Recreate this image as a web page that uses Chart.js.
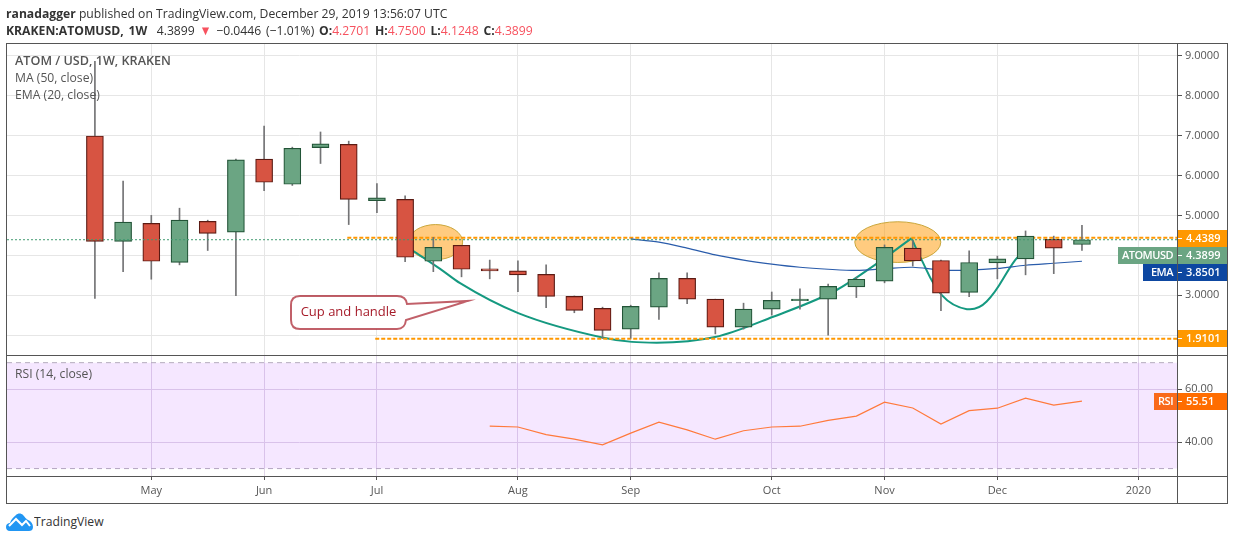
<!DOCTYPE html>
<html>
<head>
<meta charset="utf-8">
<title>ATOM / USD</title>
<script src="https://cdn.jsdelivr.net/npm/chart.js"></script>
<style>
  html, body { margin: 0; padding: 0; background: #fff; }
  body { width: 1234px; height: 540px; position: relative; overflow: hidden; font-family: "Open Sans", sans-serif; color: #333; }
  canvas { position: absolute; left: 0; }
  .txt { position: absolute; white-space: nowrap; line-height: 16px; transform-origin: left top; transform: scaleX(0.936); }
  .head { font-size: 13px; left: 6px; color: #333; }
  .head b { font-weight: 700; }
  .head i { font-style: normal; color: #f7525f; }
  .pane { font-size: 13px; left: 15px; color: #555; }
  .ln { position: absolute; background: #555; }
</style>
</head>
<body>
<canvas id="priceChart" width="1234" height="355" style="top:0"></canvas>
<canvas id="rsiChart" width="1234" height="148" style="top:355px"></canvas>

<div class="txt head" style="top:5px"><b>ranadagger</b> published on TradingView.com, December 29, 2019 13:56:07 UTC</div>
<div class="txt head" style="top:22px;word-spacing:1.7px"><b>KRAKEN:ATOMUSD, 1W</b>&nbsp; 4.3899 <i>▼</i> −0.0446 (−1.01%) <b>O:</b><i>4.2701</i> <b>H:</b><i>4.7500</i> <b>L:</b><i>4.1248</i> <b>C:</b><i>4.3899</i></div>
<div class="txt pane" style="top:52px;font-weight:600;transform:scaleX(0.97)">ATOM / USD, 1W, KRAKEN</div>
<div class="txt pane" style="top:69px">MA (50, close)</div>
<div class="txt pane" style="top:86px">EMA (20, close)</div>
<div class="txt pane" style="top:365px">RSI (14, close)</div>

<!-- chart frame -->
<div class="ln" style="left:6px;top:43px;width:1222px;height:1px"></div>
<div class="ln" style="left:6px;top:355px;width:1222px;height:1px"></div>
<div class="ln" style="left:6px;top:476px;width:1222px;height:1px"></div>
<div class="ln" style="left:6px;top:503px;width:1222px;height:1px"></div>
<div class="ln" style="left:6px;top:43px;width:1px;height:461px"></div>
<div class="ln" style="left:1177px;top:43px;width:1px;height:461px"></div>
<div class="ln" style="left:1227px;top:43px;width:1px;height:461px"></div>

<!-- logo -->
<svg style="position:absolute;left:6px;top:513px" width="27" height="18" viewBox="0 0 27 18">
  <path d="M0 14 C0 11 2 10 4 10 C5 6 8 4 10 2 C12 0 15 0 17 2 C19 4 20 6 22 7 C25 8 27 11 27 14 C27 17 25 18 23 18 L4 18 C1 18 0 16 0 14 Z" fill="#2196f3"/>
  <path d="M3 13 L10 6 L16 12 L20 8 L24 13" fill="none" stroke="#fff" stroke-width="2"/>
</svg>
<div class="txt" style="left:34px;top:513px;font-size:13px;color:#333">TradingView</div>

<script>
// weekly candles, Apr 2019 to Dec 2019
const opens =  [6.99,4.35,4.80,3.82,4.85,4.58,6.41,5.78,6.70,6.78,5.37,5.40,3.85,4.25,3.66,3.61,3.52,2.97,2.67,2.15,2.70,3.42,2.90,2.20,2.65,2.86,2.90,3.21,3.35,4.18,3.87,3.07,3.81,3.91,4.40,4.2701];
const highs =  [8.86,5.86,5.00,5.18,4.88,6.41,7.24,6.71,7.09,6.86,5.80,5.49,4.45,4.25,3.88,3.86,3.76,2.98,2.70,2.75,3.56,3.56,2.90,2.80,3.08,3.16,3.28,3.45,4.26,4.37,3.88,4.11,3.98,4.61,4.48,4.75];
const lows =   [2.92,3.59,3.40,3.76,4.12,2.99,5.62,5.75,6.30,4.77,5.07,3.84,3.59,3.46,3.41,3.09,2.69,2.56,1.92,1.92,2.39,2.79,2.03,2.15,2.50,2.65,2.00,2.94,3.31,3.73,2.61,2.96,3.41,3.51,3.54,4.1248];
const closes = [4.35,4.83,3.85,4.88,4.55,6.39,5.83,6.68,6.79,5.40,5.44,3.95,4.20,3.65,3.61,3.51,2.97,2.62,2.12,2.72,3.42,2.90,2.20,2.65,2.87,2.90,3.22,3.40,4.20,3.86,3.05,3.82,3.91,4.48,4.18,4.3899];

// EMA (20) starts at week 19, RSI (14) at week 14
const emaStart = 19;
const emaValues = [4.41,4.33,4.18,4.01,3.88,3.78,3.70,3.65,3.62,3.66,3.70,3.63,3.63,3.67,3.75,3.80,3.8501];
const rsiStart = 14;
const rsiValues = [46.0,45.7,42.8,41.1,39.0,43.4,47.5,44.6,41.1,44.3,45.7,46.0,48.2,49.8,55.1,52.9,46.8,51.9,52.8,56.6,54.0,55.51];

// hand drawn cup and handle
const cupWeeks = [11.27,12.24,12.95,15.01,17.99,19.04,19.92,21.99,24.05,26.30,27.66,28.96];
const cupPrices = [4.12,3.66,3.30,2.55,1.94,1.83,1.81,1.95,2.46,3.13,3.76,4.43];
const handleWeeks = [28.96,29.26,30.03,30.92,31.62,32.63,32.9];
const handlePrices = [4.43,3.96,3.00,2.65,2.84,3.88,4.05];

// horizontal levels: price, first week
const resistance = 4.4389, resistanceFrom = 8.95;
const support = 1.9101, supportFrom = 9.94;
const lastPrice = 4.3899;

const priceTicks = [2, 3, 4, 5, 6, 7, 8, 9];
const rsiTicks = [40, 60];
const monthWeeks = [2, 6, 10, 15, 19, 24, 28, 32, 37];
const monthLabels = ['May', 'Jun', 'Jul', 'Aug', 'Sep', 'Oct', 'Nov', 'Dec', '2020'];

const xMin = -3.117, xMax = 38.37;
const FONT = '"Open Sans", sans-serif';

const toPoints = (xs, ys) => xs.map((x, i) => ({ x: x, y: ys[i] }));
const fromStart = (start, ys) => ys.map((y, i) => ({ x: start + i, y: y }));
const isDown = (i) => closes[i] < opens[i];

// tick labels must not push the plot area in, panes are laid out by hand
function noPadding(scale) {
  scale.paddingTop = 0;
  scale.paddingBottom = 0;
  scale.paddingLeft = 0;
  scale.paddingRight = 0;
}

function xAxis(showLabels) {
  return {
    type: 'linear',
    min: xMin,
    max: xMax,
    offset: false,
    border: { display: false },
    grid: { offset: false, color: showLabels ? '#e0d6e8' : '#e6e6e6', tickColor: '#555', tickLength: showLabels ? 4 : 0, drawTicks: showLabels },
    afterBuildTicks: (scale) => { scale.ticks = monthWeeks.map((v) => ({ value: v })); },
    afterFit: (scale) => { scale.height = showLabels ? 27 : 0; noPadding(scale); },
    ticks: {
      display: showLabels,
      autoSkip: false,
      maxRotation: 0,
      padding: 4,
      color: '#555',
      font: { family: FONT, size: 11 },
      callback: (v) => monthLabels[monthWeeks.indexOf(v)]
    }
  };
}

function yAxis(min, max, tickList, digits, gridColor) {
  return {
    position: 'right',
    min: min,
    max: max,
    border: { display: false },
    grid: { color: gridColor, tickColor: '#555', tickLength: 5 },
    afterBuildTicks: (scale) => { scale.ticks = tickList.map((v) => ({ value: v })); },
    afterFit: (scale) => { scale.width = 51; noPadding(scale); },
    ticks: {
      padding: 3,
      color: '#555',
      font: { family: FONT, size: 11 },
      callback: (v) => v.toFixed(digits)
    }
  };
}

function lineSet(points, color, width, order, extra) {
  return Object.assign({
    type: 'line',
    data: points,
    borderColor: color,
    borderWidth: width,
    pointRadius: 0,
    fill: false,
    order: order
  }, extra || {});
}

// value tags on the right axis
function drawTags(ctx, tags) {
  ctx.save();
  ctx.font = '600 11px ' + FONT;
  ctx.textBaseline = 'middle';
  tags.forEach((t) => {
    const mid = (t.top + t.bottom) / 2;
    if (t.name) {
      ctx.fillStyle = t.nameColor;
      ctx.fillRect(t.left, t.top, 1177 - t.left, t.bottom - t.top);
      ctx.fillStyle = '#fff';
      ctx.textAlign = 'right';
      ctx.letterSpacing = '-0.5px';
      ctx.fillText(t.name, 1173, mid);
      ctx.letterSpacing = '0px';
    }
    ctx.fillStyle = t.color;
    ctx.fillRect(1178, t.top, 49, t.bottom - t.top);
    ctx.fillStyle = '#fff';
    ctx.fillRect(1178, mid - 0.5, 4, 1);
    ctx.textAlign = 'left';
    ctx.fillText(t.value, 1186, mid);
  });
  ctx.restore();
}

function ellipse(ctx, xs, ys, week, price, rw, rp) {
  const cx = xs.getPixelForValue(week), cy = ys.getPixelForValue(price);
  const rx = Math.abs(xs.getPixelForValue(week + rw) - cx);
  const ry = Math.abs(ys.getPixelForValue(price + rp) - cy);
  ctx.beginPath();
  ctx.ellipse(cx, cy, rx, ry, 0, 0, Math.PI * 2);
  ctx.fillStyle = 'rgba(255,152,0,0.5)';
  ctx.fill();
  ctx.strokeStyle = '#c9a63a';
  ctx.lineWidth = 1;
  ctx.stroke();
}

function drawCallout(ctx) {
  const l = 291, r = 406, t = 296, b = 329, rad = 9;
  ctx.save();
  ctx.beginPath();
  ctx.moveTo(l + rad, t);
  ctx.lineTo(r - rad, t);
  ctx.quadraticCurveTo(r, t, r + 1, t + 8);
  ctx.lineTo(468, 301);
  ctx.lineTo(406, 320);
  ctx.quadraticCurveTo(405, b, r - rad, b);
  ctx.lineTo(l + rad, b);
  ctx.quadraticCurveTo(l, b, l, b - rad);
  ctx.lineTo(l, t + rad);
  ctx.quadraticCurveTo(l, t, l + rad, t);
  ctx.closePath();
  ctx.fillStyle = '#fff';
  ctx.fill();
  ctx.strokeStyle = 'rgba(166,28,42,0.7)';
  ctx.lineWidth = 2;
  ctx.stroke();
  ctx.fillStyle = '#a61c2a';
  ctx.font = '13px ' + FONT;
  ctx.textAlign = 'center';
  ctx.textBaseline = 'middle';
  ctx.fillText('Cup and handle', 348.5, 312);
  ctx.restore();
}

const pricePlugin = {
  id: 'priceDrawings',
  beforeDatasetsDraw(chart) {
    const { ctx, scales } = chart;
    ctx.save();
    ellipse(ctx, scales.x, scales.y, 12.08, 4.33, 0.96, 0.44);
    ellipse(ctx, scales.x, scales.y, 28.47, 4.33, 1.525, 0.51);
    ctx.restore();
  },
  afterDraw(chart) {
    drawCallout(chart.ctx);
    drawTags(chart.ctx, [
      { value: '4.4389', top: 230, bottom: 247, color: '#ff9800' },
      { name: 'ATOMUSD', nameColor: '#6ba583', left: 1118, value: '4.3899', top: 247, bottom: 264, color: '#6ba583' },
      { name: 'EMA', nameColor: '#0d47a1', left: 1143, value: '3.8501', top: 264, bottom: 281, color: '#0d47a1' },
      { value: '1.9101', top: 330, bottom: 347, color: '#ff9800' }
    ]);
  }
};

const rsiPlugin = {
  id: 'rsiTag',
  afterDraw(chart) {
    drawTags(chart.ctx, [
      { name: 'RSI', nameColor: '#f96a1b', left: 1154, value: '55.51', top: 38, bottom: 55, color: '#ff6d00' }
    ]);
  }
};

new Chart(document.getElementById('priceChart'), {
  type: 'bar',
  data: {
    datasets: [
      lineSet(toPoints([xMin, xMax], [lastPrice, lastPrice]), '#3f9a70', 1, 0, { borderDash: [2, 2] }),
      {
        data: opens.map((o, i) => ({ x: i, y: [o, closes[i]] })),
        backgroundColor: opens.map((o, i) => isDown(i) ? '#d75442' : '#6ba583'),
        borderColor: opens.map((o, i) => isDown(i) ? '#5b1a13' : '#225437'),
        borderWidth: 1.2,
        borderSkipped: false,
        barThickness: 17,
        grouped: false,
        order: 1
      },
      {
        data: lows.map((l, i) => ({ x: i, y: [l, highs[i]] })),
        backgroundColor: '#737375',
        barThickness: 1,
        grouped: false,
        order: 2
      },
      lineSet(fromStart(emaStart, emaValues), '#2a5cab', 1.2, 3, { tension: 0.3 }),
      lineSet(toPoints([resistanceFrom, xMax], [resistance, resistance]), '#ff9800', 2, 4, { borderDash: [4, 2] }),
      lineSet(toPoints([supportFrom, xMax], [support, support]), '#ff9800', 2, 4, { borderDash: [4, 2] }),
      lineSet(toPoints(cupWeeks, cupPrices), '#159980', 2, 5, { cubicInterpolationMode: 'monotone' }),
      lineSet(toPoints(handleWeeks, handlePrices), '#159980', 2, 5, { tension: 0.4 })
    ]
  },
  options: {
    responsive: false,
    animation: false,
    devicePixelRatio: 1,
    layout: { padding: { left: 7, top: 43, right: 6, bottom: 0 } },
    plugins: { legend: { display: false }, tooltip: { enabled: false } },
    scales: {
      x: xAxis(false),
      y: yAxis(1.501, 9.32, priceTicks, 4, '#e6e6e6')
    }
  },
  plugins: [pricePlugin]
});

new Chart(document.getElementById('rsiChart'), {
  type: 'line',
  data: {
    datasets: [
      lineSet(fromStart(rsiStart, rsiValues), '#ff7a3c', 1.2, 0),
      lineSet(toPoints([xMin, xMax], [70, 70]), '#b5abbd', 1, 1, { borderDash: [5, 4], fill: '+1', backgroundColor: 'rgba(153,21,255,0.1)' }),
      lineSet(toPoints([xMin, xMax], [30, 30]), '#b5abbd', 1, 1, { borderDash: [5, 4] })
    ]
  },
  options: {
    responsive: false,
    animation: false,
    devicePixelRatio: 1,
    layout: { padding: { left: 7, top: 0, right: 6, bottom: 0 } },
    plugins: { legend: { display: false }, tooltip: { enabled: false } },
    scales: {
      x: xAxis(true),
      y: yAxis(27.2, 72.9, rsiTicks, 2, '#e0d6e8')
    }
  },
  plugins: [rsiPlugin]
});
</script>
</body>
</html>
